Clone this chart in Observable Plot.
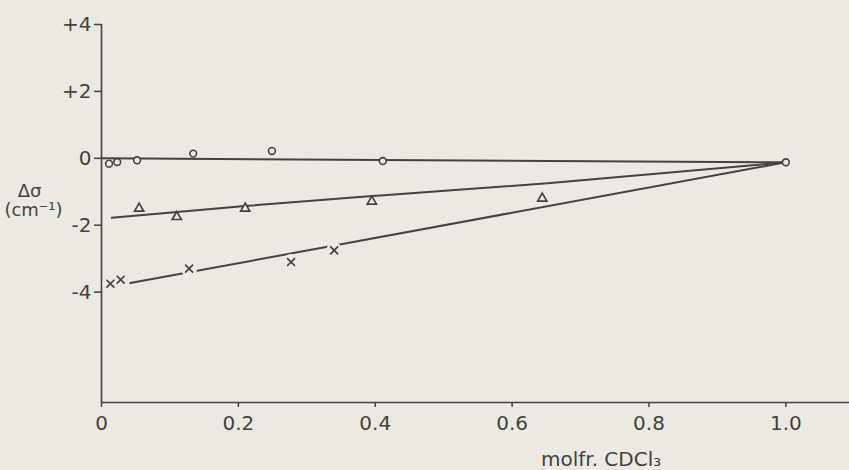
<!DOCTYPE html>
<html>
<head>
<meta charset="utf-8">
<script src="https://cdn.jsdelivr.net/npm/d3@7"></script>
<script src="https://cdn.jsdelivr.net/npm/@observablehq/plot@0.6"></script>
<style>
  html, body { margin: 0; padding: 0; background: #ebe9e0; }
  #chart { width: 849px; height: 470px; }
</style>
</head>
<body>
<div id="chart"></div>
<script>
// Shift of the band position (Δσ, cm⁻¹) against mole fraction of CDCl3

// series ○
const circleX = [0.011, 0.023, 0.052, 0.134, 0.249, 0.411, 1.0];
const circleY = [-0.16, -0.11, -0.06, 0.14, 0.22, -0.08, -0.12];
// series △
const triangleX = [0.055, 0.11, 0.21, 0.395, 0.644];
const triangleY = [-1.50, -1.75, -1.50, -1.29, -1.20];
// series ×
const crossX = [0.013, 0.028, 0.128, 0.277, 0.34];
const crossY = [-3.75, -3.63, -3.30, -3.10, -2.75];

// hand-drawn fit lines through each series
const circleFitX = [0, 1.0];
const circleFitY = [0, -0.12];
const triangleFitX = [0.015, 0.214, 0.408, 0.656, 1.0];
const triangleFitY = [-1.78, -1.42, -1.11, -0.74, -0.12];
const crossFitX = [0.042, 1.0];
const crossFitY = [-3.73, -0.12];

// axes
const xTicks = [0, 0.2, 0.4, 0.6, 0.8, 1.0];
const xTickLabels = ["0", "0.2", "0.4", "0.6", "0.8", "1.0"];
const yTicks = [4, 2, 0, -2, -4];
const yTickLabels = ["+4", "+2", "0", "-2", "-4"];
const xTitle = "molfr. CDCl\u2083";
const yTitle = ["\u0394\u03c3", "(cm\u207b\u00b9)"];

const paper = "#ebe9e0";
const ink = "#44433f";

const pts = (xs, ys) => xs.map((x, i) => ({x, y: ys[i]}));
const xFmt = new Map(xTicks.map((t, i) => [t, xTickLabels[i]]));
const yFmt = new Map(yTicks.map((t, i) => [t, yTickLabels[i]]));

const yMin = -7.3, yMax = 4;

const chart = Plot.plot({
  width: 849,
  height: 470,
  marginLeft: 101,
  marginRight: 0,
  marginTop: 24,
  marginBottom: 68,
  x: {domain: [0, 1.093]},
  y: {domain: [yMin, yMax]},
  style: {background: paper, color: ink, fontFamily: "DejaVu Sans", fontSize: "20px"},
  marks: [
    // axis lines
    Plot.ruleX([0], {y1: yMin, y2: yMax, stroke: ink, strokeWidth: 1.6}),
    Plot.ruleY([yMin], {stroke: ink, strokeWidth: 1.6}),
    Plot.axisY(yTicks, {tickSize: 7, tickPadding: 3, tickFormat: d => yFmt.get(d), label: null, fontSize: 20, strokeWidth: 1.5}),
    Plot.axisX(xTicks, {tickSize: 5, tickPadding: 8, tickFormat: d => xFmt.get(d), label: null, fontSize: 20, strokeWidth: 1.5}),
    // fit lines
    Plot.line(pts(circleFitX, circleFitY), {x: "x", y: "y", stroke: ink, strokeWidth: 2}),
    Plot.line(pts(triangleFitX, triangleFitY), {x: "x", y: "y", stroke: ink, strokeWidth: 2, curve: "monotone-x"}),
    Plot.line(pts(crossFitX, crossFitY), {x: "x", y: "y", stroke: ink, strokeWidth: 2}),
    // the fit line breaks around the crosses
    Plot.dot(pts(crossX, crossY), {x: "x", y: "y", r: 8, fill: paper, stroke: "none"}),
    // data points
    Plot.dot(pts(circleX, circleY), {x: "x", y: "y", symbol: "circle", r: 3.4, fill: paper, stroke: ink, strokeWidth: 1.6}),
    Plot.dot(pts(triangleX, triangleY), {x: "x", y: "y", symbol: "triangle", r: 3.4, fill: paper, stroke: ink, strokeWidth: 1.7}),
    Plot.dot(pts(crossX, crossY), {x: "x", y: "y", symbol: "times", r: 3.7, stroke: ink, strokeWidth: 1.7}),
    // axis titles
    Plot.text([xTitle], {x: 0.73, frameAnchor: "bottom", dy: 57, lineAnchor: "middle", fontSize: 20, fill: ink}),
    Plot.text([yTitle[0]], {frameAnchor: "left", y: -0.97, dx: -72, textAnchor: "middle", lineAnchor: "middle", fontSize: 18, fill: ink}),
    Plot.text([yTitle[1]], {frameAnchor: "left", y: -1.56, dx: -68, textAnchor: "middle", lineAnchor: "middle", fontSize: 18, fill: ink})
  ]
});

document.getElementById("chart").append(chart);
</script>
</body>
</html>
